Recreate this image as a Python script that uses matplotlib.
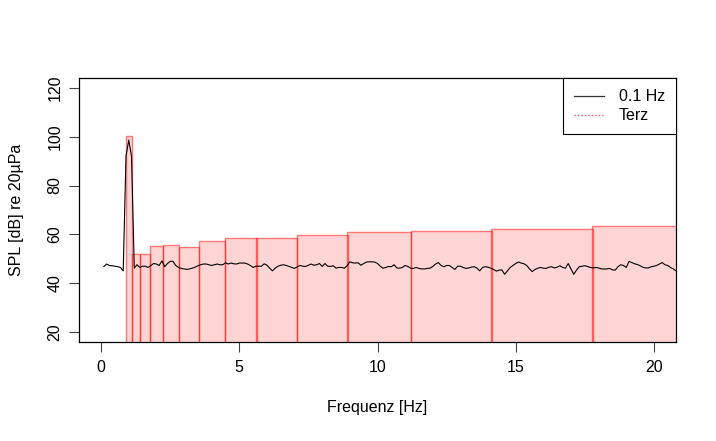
import numpy as np
import matplotlib
matplotlib.use("Agg")
import matplotlib.pyplot as plt
from matplotlib.lines import Line2D

# ---- data ----
# narrow-band spectrum, 0.1 Hz resolution (0.1 ... 20.8 Hz)
spl_01hz = [
    46.9, 47.9, 47.3, 47.2, 47.0, 46.8, 46.5, 45.1, 92.0, 98.6,
    92.0, 46.2, 47.6, 46.5, 47.0, 47.0, 46.5, 47.3, 48.1, 47.9,
    47.3, 49.2, 46.8, 48.1, 49.0, 49.0, 47.3, 46.5, 46.1, 45.9,
    45.7, 45.9, 46.2, 46.6, 47.2, 47.6, 47.9, 47.9, 47.6, 47.3,
    47.6, 47.9, 47.6, 47.6, 48.4, 47.9, 48.3, 48.0, 47.9, 48.3,
    48.3, 48.3, 47.9, 47.3, 46.5, 47.0, 47.0, 47.0, 48.0, 47.4,
    46.2, 45.1, 46.2, 47.0, 47.4, 47.6, 47.3, 46.9, 46.5, 46.1,
    46.8, 47.3, 47.0, 46.9, 47.4, 47.9, 47.4, 47.6, 48.1, 46.9,
    48.1, 47.0, 46.9, 47.2, 46.2, 46.5, 46.5, 46.2, 47.2, 48.8,
    48.4, 48.3, 48.4, 47.4, 48.1, 48.7, 48.8, 48.8, 48.7, 48.1,
    47.0, 46.2, 46.5, 46.9, 46.8, 47.6, 46.3, 46.2, 46.5, 47.3,
    46.9, 46.2, 46.1, 46.5, 46.1, 45.9, 45.9, 46.1, 46.2, 46.9,
    47.9, 48.5, 47.3, 46.8, 47.3, 47.3, 46.5, 45.7, 47.0, 47.0,
    46.5, 46.1, 46.3, 46.6, 46.8, 46.2, 45.1, 46.5, 46.8, 46.6,
    46.2, 45.7, 45.0, 45.4, 45.5, 43.7, 45.1, 46.5, 47.3, 48.1,
    48.7, 48.3, 48.0, 47.3, 45.9, 44.8, 45.7, 46.2, 46.5, 46.2,
    46.1, 46.6, 46.8, 46.3, 46.6, 47.2, 46.5, 46.2, 48.1, 45.9,
    43.7, 45.4, 46.8, 47.0, 47.2, 46.9, 46.5, 46.3, 46.5, 46.3,
    45.9, 45.9, 45.9, 46.1, 45.5, 45.4, 46.8, 47.6, 47.3, 46.5,
    49.0, 48.5, 48.0, 47.7, 47.2, 46.6, 46.3, 46.3, 46.8, 47.0,
    47.3, 47.9, 48.5, 47.6, 47.3, 46.5, 45.9, 45.1,
]
freq_step = 0.1
freq_01hz = freq_step * np.arange(1, len(spl_01hz) + 1)

# third-octave bands (exact centre frequencies) and band levels
terz_centres = [1.0, 1.2589, 1.5849, 1.9953, 2.5119, 3.1623, 3.9811, 5.0119,
                6.3096, 7.9433, 10.0, 12.589, 15.849, 19.953]
terz_spl = [100.1, 52.1, 52.1, 55.3, 55.8, 55.0, 57.2, 58.7, 58.6, 59.9, 61.0, 61.4, 62.2, 63.5]

x_ticks = [0, 5, 10, 15, 20]
y_ticks = [20, 40, 60, 80, 100, 120]
xlabel = "Frequenz [Hz]"
ylabel = "SPL [dB] re 20µPa"
legend_labels = ["0.1 Hz", "Terz"]

# ---- plot ----
plt.rcParams['font.family'] = ['Liberation Sans', 'DejaVu Sans']
fs = 11.5
fig = plt.figure(figsize=(7.16, 4.41), dpi=100)
ax = fig.add_axes([79 / 716, 1 - 342 / 441, (676 - 79) / 716, (342 - 78) / 441])

centres = np.array(terz_centres)
lo = centres * 2 ** (-1 / 6)
hi = centres * 2 ** (1 / 6)
ax.bar(lo, terz_spl, width=hi - lo, bottom=0, align='edge',
       facecolor=(1, 0, 0, 0.17), edgecolor=(1, 0, 0, 0.48), linewidth=1.0, zorder=1)

ax.plot(freq_01hz, spl_01hz, color='black', linewidth=0.8, zorder=2)

ax.set_xlim(-0.8, 20.8)
ax.set_ylim(16, 124)
ax.set_xticks(x_ticks)
ax.set_yticks(y_ticks)
ax.set_xticklabels([str(t) for t in x_ticks], fontsize=fs)
ax.set_yticklabels([str(t) for t in y_ticks], fontsize=fs, rotation=90, va='center')
ax.tick_params(direction='out', length=7, width=0.8, color='#444444', pad=6)
ax.tick_params(axis='y', pad=5)
for s in ax.spines.values():
    s.set_linewidth(0.9)
    s.set_color('black')

ax.set_xlabel(xlabel, fontsize=fs, labelpad=18)
ax.set_ylabel(ylabel, fontsize=fs, labelpad=17)

handles = [Line2D([], [], color='#333333', linewidth=0.9),
           Line2D([], [], color=(1, 0.35, 0.35), linewidth=1.0, linestyle=(0, (1, 1.5)))]
leg = ax.legend(handles, legend_labels, loc='upper right', fontsize=fs,
                frameon=True, fancybox=False, framealpha=1, edgecolor='black',
                borderaxespad=0, handlelength=1.85, handletextpad=0.95,
                borderpad=0.7, labelspacing=0.25)
leg.get_frame().set_linewidth(0.8)

fig.savefig("out.png", dpi=100)
